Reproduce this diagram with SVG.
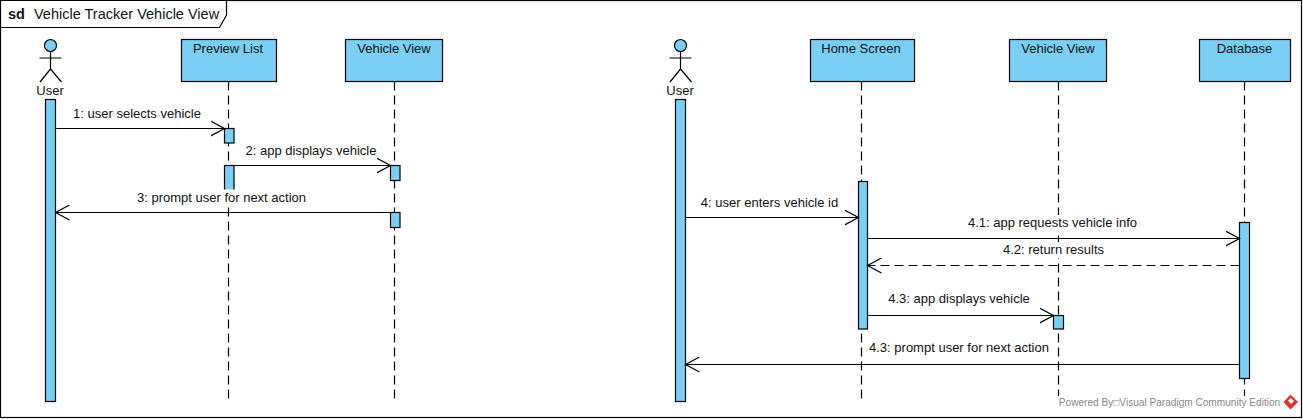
<svg xmlns="http://www.w3.org/2000/svg" width="1303" height="419" viewBox="0 0 1303 419">
<style>
text{font-family:"Liberation Sans",Arial,sans-serif;font-size:13px;fill:#111;text-anchor:middle}
.box{fill:#7acff5;stroke:#000;stroke-width:1.2}
.life{stroke:#000;stroke-width:1.2;stroke-dasharray:9 5;fill:none}
.msg{stroke:#000;stroke-width:1.2;fill:none}
.ret{stroke:#000;stroke-width:1.2;stroke-dasharray:9 5;fill:none}
.bg{fill:#fff}
.actor{stroke:#000;stroke-width:1.2;fill:none}
</style>
<defs>
<marker id="open" markerUnits="userSpaceOnUse" markerWidth="16" markerHeight="16" refX="14" refY="8" orient="auto"><path d="M0 0.5L14 8L0 15.500" fill="none" stroke="#000" stroke-width="1.2"/></marker>
</defs>
<rect x="0.5" y="0.5" width="1301" height="417" fill="#fff" stroke="#000" stroke-width="1.2"/>
<g id="frame-tab"><path d="M0.5 0.5H226.5V15L219.5 27.500H0.5Z" fill="#fff" stroke="#000" stroke-width="1.2"/>
<text x="8" y="19" style="text-anchor:start;font-weight:bold;font-size:14.500px">sd</text>
<text x="34" y="19" style="text-anchor:start;font-size:14.500px">Vehicle Tracker Vehicle View</text></g>

<g id="lifelines">
<path class="life" d="M228.500 81.500V402"/><path class="life" d="M394.500 81.500V402"/>
<path class="life" d="M861.500 81.500V402"/><path class="life" d="M1058.500 81.500V402"/><path class="life" d="M1244.500 81.500V402"/>
</g>

<g id="user1"><circle class="box" cx="50.500" cy="45.500" r="6"/><path class="actor" d="M50.500 51.500V69M39.500 58H61.500M50.500 69L40 82M50.500 69L61.500 82"/><text x="50" y="95">User</text><rect class="box" x="45.500" y="99.500" width="10" height="302"/></g>
<g id="preview-list"><rect class="box" x="181.500" y="39.500" width="95" height="42"/><text x="228" y="52.500">Preview List</text><rect class="box" x="224.500" y="128.500" width="9.500" height="14.500"/><rect class="box" x="224.500" y="165.500" width="9.500" height="30"/></g>
<g id="vehicle-view1"><rect class="box" x="345.500" y="39.500" width="97" height="42"/><text x="394" y="52.500">Vehicle View</text><rect class="box" x="390.500" y="165.500" width="9.500" height="15"/><rect class="box" x="390.500" y="212.500" width="9.500" height="15"/></g>

<g id="user2"><circle class="box" cx="680.500" cy="45.500" r="6"/><path class="actor" d="M680.500 51.500V69M669.500 58H691.500M680.500 69L670 82M680.500 69L691.500 82"/><text x="680" y="95">User</text><rect class="box" x="675.500" y="99.500" width="10" height="302"/></g>
<g id="home-screen"><rect class="box" x="810.500" y="39.500" width="104" height="42"/><text x="861" y="52.500">Home Screen</text><rect class="box" x="858.500" y="181.500" width="9" height="147.500"/></g>
<g id="vehicle-view2"><rect class="box" x="1009.500" y="39.500" width="97" height="42"/><text x="1058" y="52.500">Vehicle View</text><rect class="box" x="1053.500" y="315.500" width="10" height="13.500"/></g>
<g id="database"><rect class="box" x="1199.500" y="39.500" width="91" height="42"/><text x="1244.500" y="52.500">Database</text><rect class="box" x="1239.500" y="222.500" width="10" height="156"/></g>

<g id="connectors">
<path class="msg" marker-end="url(#open)" d="M55.500 128.500H224.500"/>
<path class="msg" marker-end="url(#open)" d="M234 165.500H390.500"/>
<path class="msg" marker-end="url(#open)" d="M390.500 212.500H55.500"/>
<path class="msg" marker-end="url(#open)" d="M685.500 217.500H858.500"/>
<path class="msg" marker-end="url(#open)" d="M867.500 238.500H1239.500"/>
<path class="ret" marker-end="url(#open)" d="M1239.500 265.500H867.500"/>
<path class="msg" marker-end="url(#open)" d="M867.500 315.500H1053.500"/>
<path class="msg" marker-end="url(#open)" d="M1239.500 364.500H685.500"/>
</g>
<g id="labels">
<text x="137" y="118">1: user selects vehicle</text>
<text x="311" y="155">2: app displays vehicle</text>
<rect class="bg" x="134" y="189.500" width="175" height="16"/><text x="221.500" y="202">3: prompt user for next action</text>
<text x="769.500" y="207">4: user enters vehicle id</text>
<rect class="bg" x="965" y="215" width="175" height="16"/><text x="1052.500" y="227">4.1: app requests vehicle info</text>
<rect class="bg" x="1000" y="242" width="107" height="16"/><text x="1053.500" y="254">4.2: return results</text>
<text x="959" y="303">4.3: app displays vehicle</text>
<rect class="bg" x="866" y="341" width="186" height="16"/><text x="959" y="352">4.3: prompt user for next action</text>
</g>
<g id="watermark">
<rect class="bg" x="1058" y="396" width="224" height="14"/>
<text x="1169.500" y="406" style="font-size:10.100px;fill:#888">Powered By□Visual Paradigm Community Edition</text>
<path d="M1290.500 394.500L1298 402L1290.500 409.500L1283.500 402Z" fill="#d8352b"/>
<path d="M1288 400.500L1291 398L1294 401L1291 404Z" fill="#fff"/>
</g>
</svg>
